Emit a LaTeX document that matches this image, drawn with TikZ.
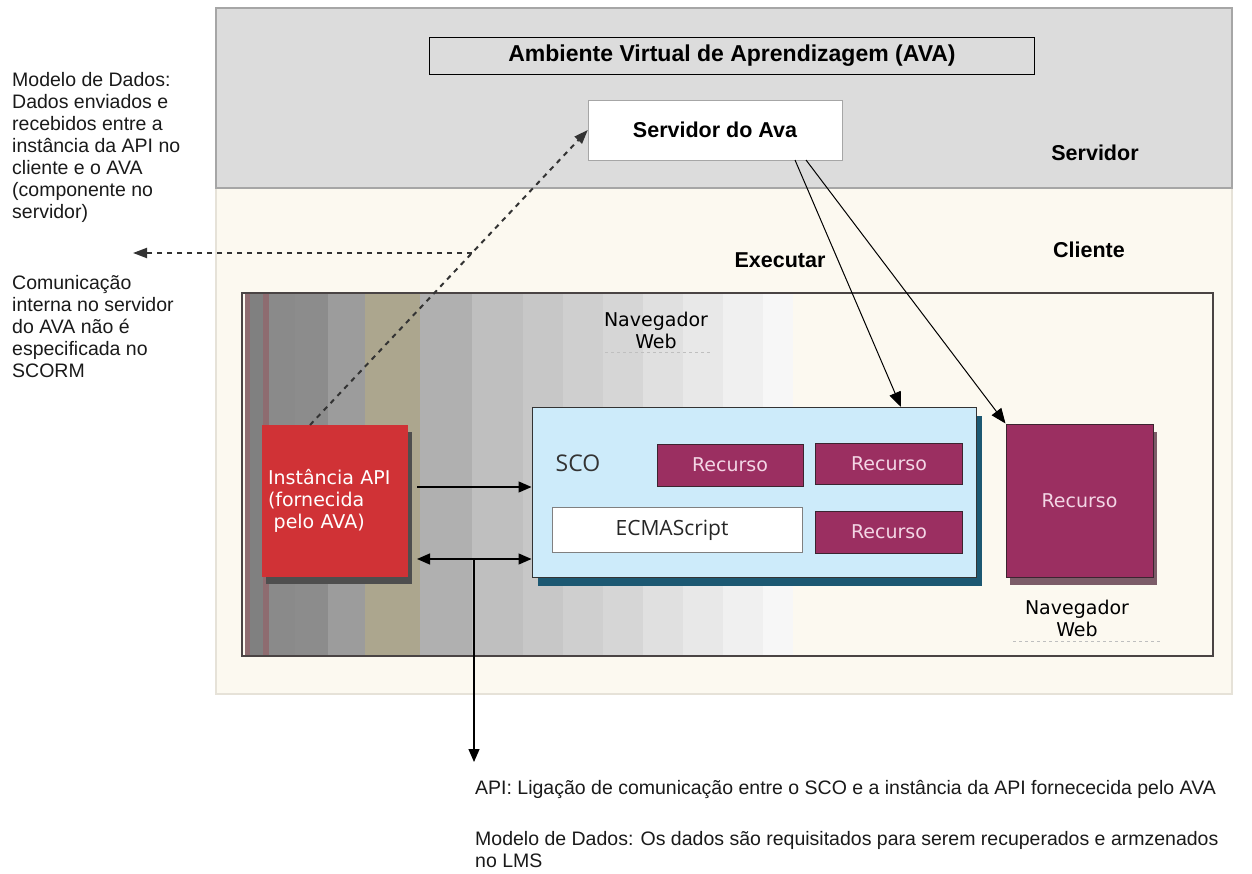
\documentclass[tikz,border=0pt]{standalone}
\usepackage{fontspec}
\setmainfont{Liberation Sans}
\newfontfamily\verdanafont{DejaVu Sans}
\newfontfamily\humanfont{Open Sans}
\usetikzlibrary{arrows.meta,shadows}

\definecolor{serverfill}{HTML}{DCDCDC}
\definecolor{serverline}{HTML}{A6A6A6}
\definecolor{clientfill}{HTML}{FCF9F0}
\definecolor{clientline}{HTML}{E6E2D8}
\definecolor{navline}{HTML}{4A4444}
\definecolor{stripered}{HTML}{8E6C70}
\definecolor{stripekhaki}{HTML}{ACA68E}
\definecolor{apifill}{HTML}{D03236}
\definecolor{apishadow}{HTML}{4E4E4E}
\definecolor{recfill}{HTML}{9B2F61}
\definecolor{rectext}{HTML}{F3D6E5}
\definecolor{recline}{HTML}{3C2430}
\definecolor{recshadow}{HTML}{7C5C68}
\definecolor{scofill}{HTML}{CDEBFA}
\definecolor{scoshadow}{HTML}{1C5872}
\definecolor{notetext}{HTML}{1A1A1A}

\tikzset{
  titletext/.style={font=\bfseries\fontsize{21.5}{25}\selectfont},
  note/.style={anchor=north west, align=left, inner sep=0pt, text=notetext,
    font=\fontsize{19.5}{22}\selectfont},
  boxtext/.style={font=\verdanafont\fontsize{19}{22}\selectfont},
  recurso/.style={boxtext, draw=recline, line width=1pt, fill=recfill, text=rectext},
  arr/.style={-{Triangle[length=13pt,width=11pt]}, line width=1.3pt},
  arrboth/.style={{Triangle[length=13pt,width=11pt]}-{Triangle[length=13pt,width=11pt]}, line width=1.3pt},
  dasharr/.style={-{Triangle[length=14pt,width=10pt]}, line width=2pt, draw=black!80,
    dash pattern=on 5pt off 5pt},
  thinarr/.style={-{Triangle[length=15pt,width=12pt]}, line width=1pt},
}

\begin{document}
\begin{tikzpicture}[x=1pt,y=-1pt]
\useasboundingbox (0,0) rectangle (1252,874);
\fill[white] (0,0) rectangle (1252,874);

\draw[fill=clientfill, draw=clientline, line width=1.5] (216,188) rectangle (1232,694);
\draw[fill=serverfill, draw=serverline, line width=1.5] (216,8) rectangle (1232,188);

\node[draw, line width=1.5pt, minimum width=605, minimum height=37, titletext,
  font=\bfseries\fontsize{23}{26}\selectfont] (ava) at (732,56) {Ambiente Virtual de Aprendizagem (AVA)};
\node[draw=serverline, fill=white, minimum width=254, minimum height=60, titletext] (srv) at (715,130) {Servidor do Ava};
\node[titletext] (servidor) at (1095,153) {Servidor};
\node[titletext] (cliente) at (1089,250) {Cliente};
\node[titletext] (executar) at (780,260) {Executar};

\foreach \xa/\xb/\c in {245/250/stripered, 250/263/black!50, 263/269/stripered, 269/295/black!46,
    295/328/black!45, 328/365/black!39, 365/420/stripekhaki, 420/472/black!31, 472/523/black!25,
    523/563/black!22, 563/603/black!19, 603/643/black!16, 643/683/black!12, 683/723/black!9,
    723/763/black!6, 763/793/black!3}
  \fill[\c] (\xa,293) rectangle (\xb,656);
\node[draw=navline, line width=2.5pt, minimum width=971, minimum height=363] (nav) at (727.5,474.5) {};

\node[boxtext, align=center] (navlbl) at (656,330) {Navegador\\Web};
\draw[dashed, black!25] (605,352) -- (712,352);

\node[boxtext, fill=apifill, text=white, text width=134, inner sep=6pt, align=left,
  minimum height=152, drop shadow={shadow xshift=4pt, shadow yshift=-7pt, fill=apishadow, opacity=1}]
  (api) at (335,501) {Instância API\\(fornecida\\\hspace{0.3em}pelo AVA)};

\node[draw=black!80, line width=1pt, fill=scofill, minimum width=444, minimum height=170,
  drop shadow={shadow xshift=6pt, shadow yshift=-9pt, fill=scoshadow, opacity=1}] (sco) at (754,492) {};
\node[font=\humanfont\fontsize{23}{26}\selectfont, text=black!80] (scolbl) at (578,463) {SCO};
\node[recurso, minimum width=146, minimum height=42] (rec1) at (730,465) {Recurso};
\node[recurso, minimum width=147, minimum height=41] (rec2) at (889,464) {Recurso};
\node[recurso, minimum width=147, minimum height=42] (rec3) at (889,532) {Recurso};
\node[draw=black!50, line width=1pt, fill=white, minimum width=250, minimum height=45,
  font=\humanfont\fontsize{21}{24}\selectfont, text=black!85] (ecma) at (677,530) {\hspace{-10pt}ECMAScript};

\node[recurso, minimum width=147, minimum height=153,
  drop shadow={shadow xshift=4pt, shadow yshift=-8pt, fill=recshadow, opacity=1}] (recweb) at (1079.5,500.5) {Recurso};
\node[boxtext, align=center] (navlbl2) at (1077,618) {Navegador\\Web};
\draw[dashed, black!25] (1013,641) -- (1160,641);

\coordinate (l1) at (417,487);
\coordinate (l2) at (417,559);
\coordinate (l3) at (474,559);
\coordinate (down) at (474,762);
\draw[arr] (l1) -- (l1 -| sco.west);
\draw[arrboth] (l2) -- (l2 -| sco.west);
\draw[arr] (l3) -- (down);

\coordinate (apitop) at (310,425);
\coordinate (branch) at (472,253);
\coordinate (noteend) at (133,253);
\draw[dasharr] (apitop) -- (srv.west);
\draw[dasharr] (branch) -- (noteend);

\coordinate (s1) at (795,160);
\coordinate (s2) at (806,160);
\coordinate (scotop) at (901,407);
\draw[thinarr] (s1) -- (scotop);
\draw[thinarr] (s2) -- (recweb.north west);

\node[note] (datamodel) at (12,72) {Modelo de Dados:\\Dados enviados e\\recebidos entre a\\instância da API no\\cliente e o AVA\\(componente no\\servidor)};
\node[note] (internal) at (12,275) {Comunicação\\interna no servidor\\do AVA não é\\especificada no\\SCORM};
\node[note] (apinote) at (475,780) {API: Ligação de comunicação entre o SCO e a instância da API fornececida pelo AVA};
\node[note] (datanote) at (475,831) {Modelo de Dados: Os dados são requisitados para serem recuperados e armzenados\\no LMS};
\end{tikzpicture}
\end{document}
